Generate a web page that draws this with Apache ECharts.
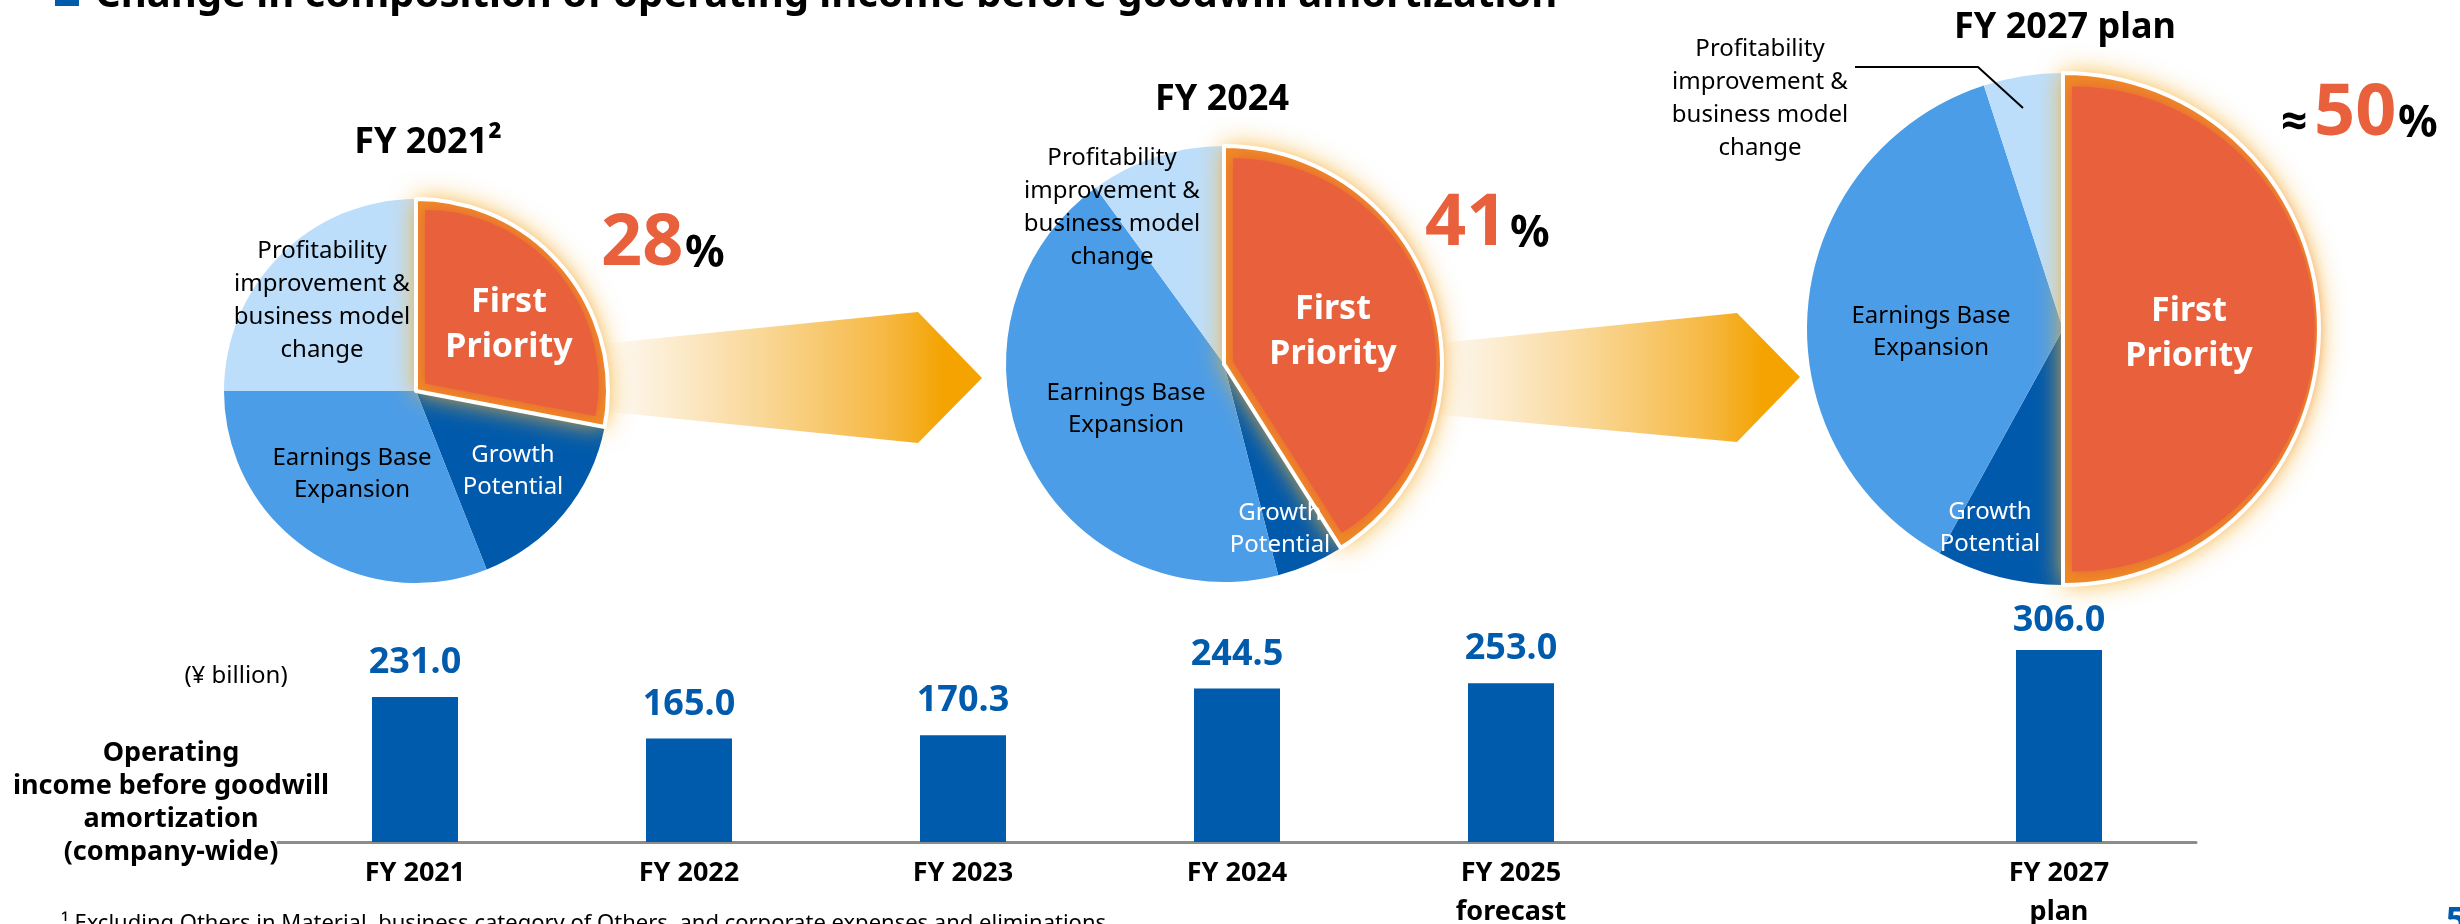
<!DOCTYPE html>
<html><head><meta charset="utf-8">
<script src="https://cdn.jsdelivr.net/npm/echarts@6/dist/echarts.min.js"></script>
<style>html,body{margin:0;padding:0;background:#fff}#c{width:2460px;height:924px}</style>
</head><body><div id="c"></div>
<script>
// ---------- data ----------
const pieYears = ['FY 2021\u00b2', 'FY 2024', 'FY 2027 plan'];
const segmentNames = ['First Priority', 'Growth Potential', 'Earnings Base Expansion', 'Profitability improvement & business model change'];
const segmentLabels = ['First\nPriority', 'Growth\nPotential', 'Earnings Base\nExpansion', 'Profitability\nimprovement &\nbusiness model\nchange'];
const firstPriority = [28, 41, 50];
const growthPotential = [16, 5, 8];
const earningsBase = [31, 44, 37];
const profitability = [25, 10, 5];
const sharePrefix = ['', '', '\u2248'];
const barCategories = ['FY 2021', 'FY 2022', 'FY 2023', 'FY 2024', 'FY 2025\nforecast', '', 'FY 2027\nplan'];
const barValues = [231.0, 165.0, 170.3, 244.5, 253.0, null, 306.0];
const yAxisCaption = ['Operating', 'income before goodwill', 'amortization', '(company-wide)'];
const unitText = '(\u00a5 billion)';
const titleText = 'Change in composition of operating income before goodwill amortization';
const footnoteText = '\u00b9 Excluding Others in Material, business category of Others, and corporate expenses and eliminations';

// ---------- styles / layout ----------
const FF = '"Noto Sans", "Open Sans", sans-serif';
const COL = { orange: '#e8603c', rim: '#ef8a24', dark: '#0059ab', mid: '#4c9de7', light: '#bddefb', blue: '#005bac' };
const pieLayout = [
  { cx: 416, cy: 391, r: 192, title: [428, 143],
    labels: [[509, 325], [513, 471], [352, 474], [322, 301]],
    pct: { pre: null, num: [601, 244], pc: [685, 254] } },
  { cx: 1224, cy: 364, r: 218, title: [1222, 100],
    labels: [[1333, 332], [1280, 529], [1126, 409], [1112, 208]],
    pct: { pre: null, num: [1425, 224], pc: [1510, 234] } },
  { cx: 2063, cy: 329, r: 256, title: [2065, 28],
    labels: [[2189, 334], [1990, 528], [1931, 332], [1760, 99]],
    pct: { pre: [2281, 124], num: [2314, 114], pc: [2398, 124] } }
];
const labelStyles = [
  { color: '#fff', fontSize: 34, fontWeight: 'bold', lineHeight: 45 },
  { color: '#fff', fontSize: 24, fontWeight: 'normal', lineHeight: 32 },
  { color: '#000', fontSize: 24, fontWeight: 'normal', lineHeight: 32 },
  { color: '#000', fontSize: 24, fontWeight: 'normal', lineHeight: 33 }
];

function pieSeries(i) {
  const L = pieLayout[i];
  const vals = [firstPriority[i], growthPotential[i], earningsBase[i], profitability[i]];
  const total = vals.reduce((a, b) => a + b, 0);
  const colors = [COL.orange, COL.dark, COL.mid, COL.light];
  const common = {
    type: 'pie', silent: true, animation: false, startAngle: 90, clockwise: true,
    avoidLabelOverlap: false, emphasis: { disabled: true }, labelLine: { show: false },
    label: { show: false }, center: [L.cx, L.cy], radius: [0, L.r]
  };
  const base = Object.assign({}, common, { z: 2,
    data: vals.map((v, k) => ({ name: segmentNames[k], value: v, itemStyle: { color: colors[k], borderWidth: 0 } })) });
  const glow = Object.assign({}, common, { z: 3,
    data: vals.map((v, k) => ({ name: segmentNames[k], value: v, itemStyle: k === 0
      ? { color: COL.rim, borderWidth: 0, shadowBlur: 26, shadowColor: 'rgba(248,180,50,1)' }
      : { color: 'rgba(0,0,0,0)', borderWidth: 0 } })) });
  // inset sector giving the soft orange inner rim
  const th = (vals[0] / total) * Math.PI; // half angle
  const d = 9, s = d / Math.sin(th);
  const distMid = L.r - s;
  const distEdge = Math.sqrt(L.r * L.r + s * s - 2 * L.r * s * Math.cos(th));
  const rIn = (distMid + distEdge) / 2 - d;
  const inset = Object.assign({}, common, { z: 4,
    center: [L.cx + s * Math.sin(th), L.cy - s * Math.cos(th)], radius: [0, rIn],
    data: [
      { name: segmentNames[0], value: vals[0], itemStyle: { color: COL.orange, borderWidth: 0, shadowBlur: 14, shadowColor: 'rgba(232,96,60,1)' } },
      { name: 'rest', value: total - vals[0], itemStyle: { color: 'rgba(0,0,0,0)', borderWidth: 0 } }
    ] });
  const top = Object.assign({}, common, { z: 6,
    labelLayout: function (p) {
      const pos = L.labels[p.dataIndex];
      return { x: pos[0], y: pos[1], align: 'center', verticalAlign: 'middle' };
    },
    data: vals.map((v, k) => ({ name: segmentNames[k], value: v,
      itemStyle: k === 0 ? { color: 'rgba(0,0,0,0)', borderColor: '#fff', borderWidth: 4 } : { color: 'rgba(0,0,0,0)', borderWidth: 0 },
      label: Object.assign({ show: true, position: 'inside', formatter: segmentLabels[k], fontFamily: FF, align: 'center' }, labelStyles[k])
    })) });
  return [base, glow, inset, top];
}

function txt(x, y, text, font, fill, align, valign, extra) {
  return { type: 'text', z: 100, style: Object.assign({ x: x, y: y, text: text, font: font, fill: fill,
    align: align, textAlign: align, verticalAlign: valign, textVerticalAlign: valign }, extra || {}) };
}

const graphics = [];
// arrows
const arrowGrad = () => new echarts.graphic.LinearGradient(0, 0, 1, 0, [
  { offset: 0, color: '#ffffff' }, { offset: 0.12, color: '#fdf1de' }, { offset: 0.45, color: '#f9d590' },
  { offset: 0.75, color: '#f6b843' }, { offset: 0.9, color: '#f4a300' }, { offset: 1, color: '#f4a300' }]);
graphics.push({ type: 'polygon', z: 0, shape: { points: [[600, 344], [918, 312], [982, 378], [918, 443], [600, 411]] }, style: { fill: arrowGrad() } });
graphics.push({ type: 'polygon', z: 0, shape: { points: [[1430, 344], [1737, 313], [1800, 377], [1737, 442], [1430, 414]] }, style: { fill: arrowGrad() } });
// title
graphics.push({ type: 'rect', z: 100, shape: { x: 55, y: -20, width: 24, height: 26 }, style: { fill: COL.blue } });
graphics.push(txt(95, -4, titleText, 'bold 40px ' + FF, '#000', 'left', 'middle'));
// pie titles and shares
pieLayout.forEach((L, i) => {
  graphics.push(txt(L.title[0], L.title[1], pieYears[i], 'bold 36px ' + FF, '#000', 'center', 'middle'));
  if (L.pct.pre) graphics.push(txt(L.pct.pre[0], L.pct.pre[1], sharePrefix[i], 'bold 46px ' + FF, '#000', 'left', 'middle'));
  graphics.push(txt(L.pct.num[0], L.pct.num[1], String(firstPriority[i]), 'bold 72px ' + FF, COL.orange, 'left', 'middle'));
  graphics.push(txt(L.pct.pc[0], L.pct.pc[1], '%', 'bold 44px ' + FF, '#000', 'left', 'middle'));
});
// leader line for the small slice of the last pie
graphics.push({ type: 'polyline', z: 100, shape: { points: [[1855, 67], [1978, 67], [2023, 108]] }, style: { stroke: '#000', lineWidth: 2, fill: null } });
// bar caption texts
graphics.push(txt(236, 676, unitText, '24px ' + FF, '#000', 'center', 'middle'));
graphics.push(txt(171, 803, yAxisCaption.join('\n'), 'bold 27px ' + FF, '#000', 'center', 'middle', { lineHeight: 33 }));
graphics.push(txt(61, 913, footnoteText, '22px ' + FF, '#000', 'left', 'top'));
graphics.push(txt(2446, 904, '5', 'bold 34px ' + FF, COL.blue, 'left', 'top'));

const series = [];
pieLayout.forEach((L, i) => pieSeries(i).forEach(s => series.push(s)));
series.push({
  type: 'bar', z: 2, animation: false, silent: true, barWidth: 86,
  itemStyle: { color: COL.blue },
  label: { show: true, position: 'top', distance: 16, color: COL.blue, fontFamily: FF, fontWeight: 'bold', fontSize: 36,
    formatter: p => Number(p.value).toFixed(1) },
  data: barValues.map((v, i) => v == null ? '-' : (i === 6 ? { value: v, label: { distance: 11 } } : v))
});

const chart = echarts.init(document.getElementById('c'), null, { renderer: 'canvas' });
chart.setOption({
  animation: false,
  backgroundColor: '#fff',
  textStyle: { fontFamily: FF },
  grid: { left: 278, top: 591, width: 1918, height: 251, containLabel: false, outerBoundsMode: 'none' },
  xAxis: { type: 'category', data: barCategories,
    axisLine: { show: true, lineStyle: { color: '#8c8c8c', width: 3 } }, axisTick: { show: false },
    axisLabel: { interval: 0, color: '#000', fontWeight: 'bold', fontSize: 27, lineHeight: 39, margin: 12, fontFamily: FF } },
  yAxis: { type: 'value', min: 0, max: 400, show: false, splitLine: { show: false } },
  series: series,
  graphic: graphics
});
</script></body></html>
